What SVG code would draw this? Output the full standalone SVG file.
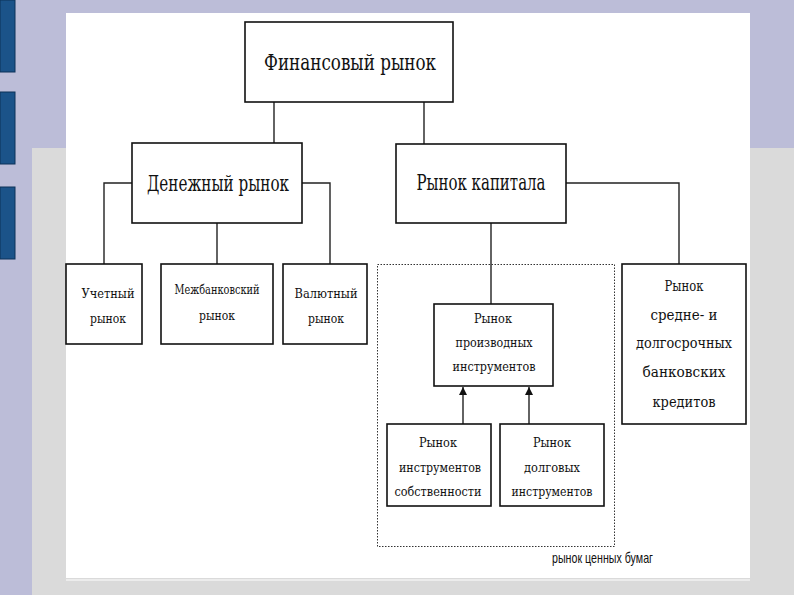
<svg xmlns="http://www.w3.org/2000/svg" width="794" height="595" viewBox="0 0 794 595">
<defs>
<style>
.box{fill:#fff;stroke:#111;stroke-width:1.6}
.ln{fill:none;stroke:#222;stroke-width:1.4}
text.t{font-family:'DejaVu Serif','Liberation Serif',serif;fill:#111;text-anchor:middle}
.big{font-size:22px}
.sm{font-size:13.5px}
.md{font-size:15.5px}
</style>
<marker id="ah" viewBox="0 0 10 10" refX="10" refY="5" markerWidth="10" markerHeight="8" markerUnits="userSpaceOnUse" orient="auto">
<path d="M0,0 L10,5 L0,10 z" fill="#111"/>
</marker>
</defs>
<g id="background">
<rect x="0" y="0" width="794" height="595" fill="#bcbdd8"/>
<rect x="32" y="148" width="762" height="447" fill="#dadada"/>
<rect x="0" y="0" width="15" height="72" fill="#1b5389" stroke="#0d3358" stroke-width="1"/>
<rect x="0" y="92" width="15" height="72" fill="#1b5389" stroke="#0d3358" stroke-width="1"/>
<rect x="0" y="187" width="15" height="72" fill="#1b5389" stroke="#0d3358" stroke-width="1"/>
<rect x="66" y="13" width="684" height="565" fill="#fff"/>
<line x1="66" y1="580" x2="750" y2="580" stroke="#ececec" stroke-width="2"/>
</g>
<g id="connectors">
<line class="ln" x1="274" y1="102" x2="274" y2="144"/>
<line class="ln" x1="424" y1="102" x2="424" y2="144"/>
<polyline class="ln" points="132,183 104,183 104,264"/>
<line class="ln" x1="217" y1="223" x2="217" y2="264"/>
<polyline class="ln" points="302,183 330,183 330,264"/>
<line class="ln" x1="491" y1="223" x2="491" y2="304"/>
<polyline class="ln" points="566,183 679,183 679,264"/>
<line class="ln" x1="463" y1="424" x2="463" y2="387" marker-end="url(#ah)"/>
<line class="ln" x1="529" y1="424" x2="529" y2="387" marker-end="url(#ah)"/>
</g>
<g id="securities-market">
<rect x="377.5" y="264.5" width="237" height="282" fill="none" stroke="#333" stroke-width="1" stroke-dasharray="1.5,1.5"/>
<text x="552" y="563" font-family="'Liberation Sans', Arial, sans-serif" font-size="15" fill="#111" textLength="101" lengthAdjust="spacingAndGlyphs">рынок ценных бумаг</text>
</g>
<g id="financial-market">
<rect class="box" x="245" y="22" width="208" height="80"/>
<text class="t big" x="350" y="70" textLength="172" lengthAdjust="spacingAndGlyphs">Финансовый рынок</text>
</g>
<g id="money-market">
<rect class="box" x="132" y="143" width="170" height="80"/>
<text class="t big" x="218" y="191" textLength="142" lengthAdjust="spacingAndGlyphs">Денежный рынок</text>
</g>
<g id="capital-market">
<rect class="box" x="396" y="144" width="170" height="79"/>
<text class="t big" x="481" y="190" textLength="129" lengthAdjust="spacingAndGlyphs">Рынок капитала</text>
</g>
<g id="discount-market">
<rect class="box" x="66" y="264" width="76" height="80"/>
<text class="t sm" x="108" y="298" textLength="53" lengthAdjust="spacingAndGlyphs">Учетный</text>
<text class="t sm" x="108" y="323" textLength="36" lengthAdjust="spacingAndGlyphs">рынок</text>
</g>
<g id="interbank-market">
<rect class="box" x="161" y="264" width="112" height="80"/>
<text class="t sm" x="217" y="294" textLength="85" lengthAdjust="spacingAndGlyphs">Межбанковский</text>
<text class="t sm" x="217" y="320" textLength="36" lengthAdjust="spacingAndGlyphs">рынок</text>
</g>
<g id="currency-market">
<rect class="box" x="283" y="264" width="84" height="80"/>
<text class="t sm" x="326" y="298" textLength="63" lengthAdjust="spacingAndGlyphs">Валютный</text>
<text class="t sm" x="326" y="323" textLength="36" lengthAdjust="spacingAndGlyphs">рынок</text>
</g>
<g id="derivatives-market">
<rect class="box" x="434" y="304" width="119" height="82"/>
<text class="t sm" x="493" y="323" textLength="38" lengthAdjust="spacingAndGlyphs">Рынок</text>
<text class="t sm" x="494" y="347" textLength="77" lengthAdjust="spacingAndGlyphs">производных</text>
<text class="t sm" x="494" y="371" textLength="83" lengthAdjust="spacingAndGlyphs">инструментов</text>
</g>
<g id="equity-market">
<rect class="box" x="387" y="424" width="104" height="82"/>
<text class="t sm" x="438" y="447" textLength="38" lengthAdjust="spacingAndGlyphs">Рынок</text>
<text class="t sm" x="440" y="472" textLength="82" lengthAdjust="spacingAndGlyphs">инструментов</text>
<text class="t sm" x="438" y="496" textLength="87" lengthAdjust="spacingAndGlyphs">собственности</text>
</g>
<g id="debt-market">
<rect class="box" x="500" y="424" width="104" height="82"/>
<text class="t sm" x="552" y="447" textLength="38" lengthAdjust="spacingAndGlyphs">Рынок</text>
<text class="t sm" x="552" y="472" textLength="56" lengthAdjust="spacingAndGlyphs">долговых</text>
<text class="t sm" x="552" y="496" textLength="81" lengthAdjust="spacingAndGlyphs">инструментов</text>
</g>
<g id="bank-credit-market">
<rect class="box" x="622" y="264" width="124" height="160"/>
<text class="t md" x="684" y="291" textLength="39" lengthAdjust="spacingAndGlyphs">Рынок</text>
<text class="t md" x="684" y="320" textLength="67" lengthAdjust="spacingAndGlyphs">средне- и</text>
<text class="t md" x="684" y="348" textLength="96" lengthAdjust="spacingAndGlyphs">долгосрочных</text>
<text class="t md" x="684" y="377" textLength="83" lengthAdjust="spacingAndGlyphs">банковских</text>
<text class="t md" x="684" y="407" textLength="63" lengthAdjust="spacingAndGlyphs">кредитов</text>
</g>
</svg>
